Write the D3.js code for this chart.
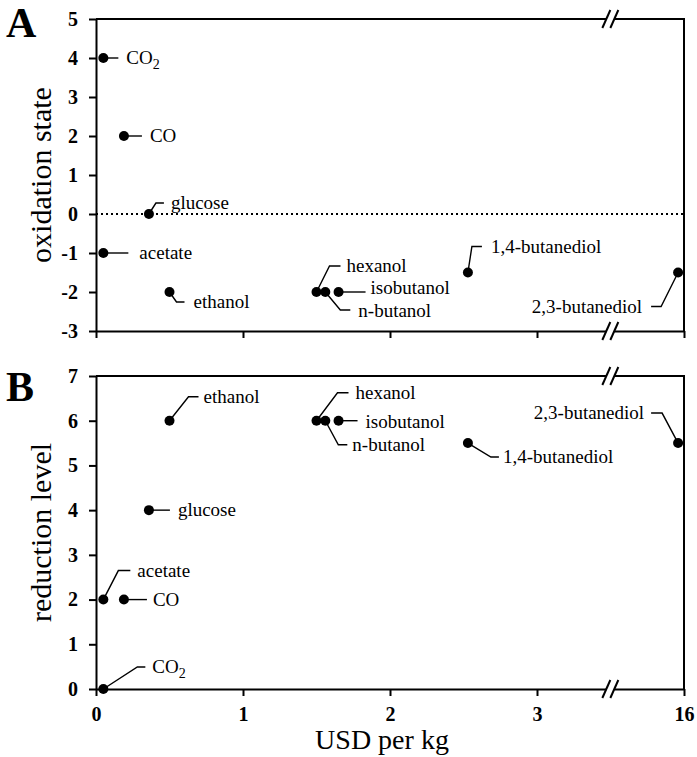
<!DOCTYPE html>
<html>
<head>
<meta charset="utf-8">
<script src="https://cdn.jsdelivr.net/npm/d3@7"></script>
<style>
  body { margin: 0; background: #fff; }
  text { font-family: "Liberation Serif", "Times New Roman", serif; fill: #000; }
</style>
</head>
<body>
<div id="container"></div>
<script>

// data
const names = ["CO2", "CO", "glucose", "acetate", "ethanol", "hexanol", "n-butanol", "isobutanol", "1,4-butanediol", "2,3-butanediol"];
const price = [0.05, 0.19, 0.36, 0.05, 0.50, 1.50, 1.56, 1.65, 2.53, 15.9];
const oxState = [4, 2, 0, -1, -2, -2, -2, -2, -1.5, -1.5];
const redLevel = [0, 2, 4, 2, 6, 6, 6, 6, 5.5, 5.5];
const xTicks = [0, 1, 2, 3, 16];
const yTicksA = [-3, -2, -1, 0, 1, 2, 3, 4, 5];
const yTicksB = [0, 1, 2, 3, 4, 5, 6, 7];

// leader line layout: [elbow dx, elbow dy, line end dx, text dx, anchor, text dy]
const leadA = {
  "CO2": [0, 0, 15, 23, "start", 0],
  "CO": [0, 0, 18, 26, "start", 0],
  "glucose": [7, -11, 15, 22, "start", 0],
  "acetate": [0, 0, 25, 36, "start", 0],
  "ethanol": [7, 10, 15, 24, "start", 0],
  "hexanol": [13, -26, 24, 30, "start", 0],
  "n-butanol": [15, 18, 25, 33, "start", 1],
  "isobutanol": [0, 0, 27, 32, "start", -4],
  "1,4-butanediol": [4, -26, 14, 23, "start", 0],
  "2,3-butanediol": [-17, 34, -27, -36, "end", 0]
};
const leadB = {
  "CO2": [34, -22, 42, 49, "start", 0],
  "CO": [0, 0, 23, 29, "start", 0],
  "glucose": [0, 0, 21, 29, "start", 0],
  "acetate": [15, -29, 27, 34, "start", 0],
  "ethanol": [19, -24, 29, 34, "start", 0],
  "hexanol": [21, -28, 32, 39, "start", 0],
  "n-butanol": [13, 24, 22, 27, "start", 0],
  "isobutanol": [0, 0, 19, 27, "start", 1],
  "1,4-butanediol": [23, 14, 31, 35, "start", 0],
  "2,3-butanediol": [-16, -30, -27, -34, "end", 0]
};

const W = 697, H = 757;
const left = 96, right = 684;

const svg = d3.select("#container")
  .append("svg")
    .attr("width", W)
    .attr("height", H);

// broken x axis: 3 .. 15 squeezed into a short gap
const x = d3.scaleLinear()
  .domain([0, 3, 15, 16])
  .range([left, 537, 625, right]);
const xBreak = 13;

const yA = d3.scaleLinear().domain([-3, 5]).range([331, 19]);
const yB = d3.scaleLinear().domain([0, 7]).range([689, 376]);

function breakMark(bx, by) {
  svg.append("rect")
    .attr("x", bx - 4).attr("y", by - 3)
    .attr("width", 8).attr("height", 6)
    .attr("fill", "#fff");
  [-4, 4].forEach(o => {
    svg.append("line")
      .attr("x1", bx + o - 4).attr("y1", by + 9)
      .attr("x2", bx + o + 4).attr("y2", by - 9)
      .attr("stroke", "#000").attr("stroke-width", 2);
  });
}

function panel(y, yTicks, vals, lead, xLabels, title, letter, letterY) {
  const top = y.range()[1], bot = y.range()[0];

  // frame top + right
  svg.append("path")
    .attr("d", `M${left},${top}H${right}V${bot}`)
    .attr("fill", "none").attr("stroke", "#000").attr("stroke-width", 2);

  const xa = svg.append("g")
    .attr("transform", `translate(0,${bot})`)
    .call(d3.axisBottom(x).tickValues(xTicks).tickSize(7).tickSizeOuter(0).tickPadding(11)
      .tickFormat(xLabels ? d => String(d) : ""));
  const ya = svg.append("g")
    .attr("transform", `translate(${left},0)`)
    .call(d3.axisLeft(y).tickValues(yTicks).tickSize(7).tickSizeOuter(0).tickPadding(11)
      .tickFormat(d => String(d)));
  [xa, ya].forEach(a => {
    a.selectAll("path, line").attr("stroke", "#000").attr("stroke-width", 2);
    a.selectAll("text")
      .style("font-family", "'Liberation Serif', serif")
      .style("font-weight", "bold")
      .style("font-size", "20px");
  });

  breakMark(x(xBreak), top);
  breakMark(x(xBreak), bot);

  // leader lines
  names.forEach((n, i) => {
    const cx = x(price[i]), cy = y(vals[i]);
    const l = lead[n];
    svg.append("path")
      .attr("d", `M${cx},${cy}L${cx + l[0]},${cy + l[1]}L${cx + l[2]},${cy + l[1]}`)
      .attr("fill", "none").attr("stroke", "#000").attr("stroke-width", 1.4);
    const t = svg.append("text")
      .attr("x", cx + l[3]).attr("y", cy + l[1] + l[5])
      .attr("dy", "0.33em")
      .attr("text-anchor", l[4])
      .style("font-size", "19px");
    if (n == "CO2") {
      t.append("tspan").text("CO");
      t.append("tspan").text("2").attr("dy", 5).style("font-size", "14px");
    } else {
      t.text(n);
    }
  });

  svg.append("g")
    .selectAll("circle")
    .data(vals)
    .join("circle")
      .attr("cx", (d, i) => x(price[i]))
      .attr("cy", d => y(d))
      .attr("r", 5)
      .attr("fill", "#000");

  svg.append("text")
    .attr("transform", `translate(51,${(top + bot) / 2}) rotate(-90)`)
    .attr("text-anchor", "middle")
    .style("font-size", "30px")
    .text(title);

  svg.append("text")
    .attr("x", 6).attr("y", letterY)
    .style("font-size", "42px").style("font-weight", "bold")
    .text(letter);
}

// zero line in panel A
svg.append("line")
  .attr("x1", left).attr("x2", right)
  .attr("y1", yA(0)).attr("y2", yA(0))
  .attr("stroke", "#000").attr("stroke-width", 2)
  .attr("stroke-dasharray", "2,3");

panel(yA, yTicksA, oxState, leadA, false, "oxidation state", "A", 37);
panel(yB, yTicksB, redLevel, leadB, true, "reduction level", "B", 401);

svg.append("text")
  .attr("x", 382).attr("y", 749)
  .attr("text-anchor", "middle")
  .style("font-size", "28px")
  .text("USD per kg");

</script>
</body>
</html>
